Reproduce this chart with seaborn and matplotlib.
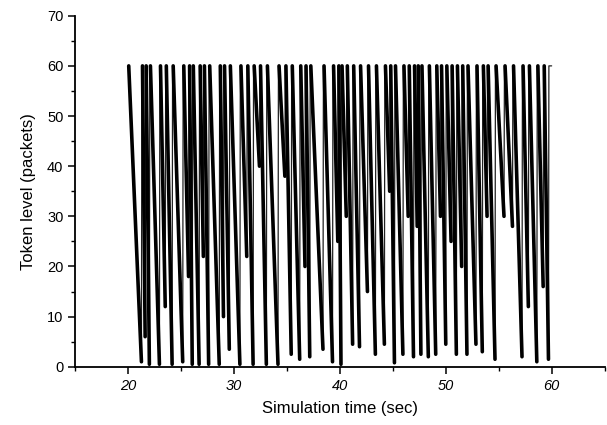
"""Token bucket level over simulation time."""

import matplotlib
matplotlib.use("Agg")
import matplotlib.pyplot as plt
import matplotlib.ticker as mticker
import pandas as pd
import seaborn as sns

# each dip: the level starts falling at dip_start, reaches dip_min at dip_bottom,
# then the bucket is refilled to BUCKET_SIZE
BUCKET_SIZE = 60
SIM_START = 20.0
SIM_END = 60.0

dip_start = [20.05, 21.35, 21.7, 22.1, 23.05, 23.6, 24.25, 25.25, 25.8, 26.15,
             26.8, 27.2, 27.7, 28.7, 29.1, 29.65, 30.65, 31.3, 31.9, 32.5,
             33.15, 34.25, 34.9, 35.5, 36.3, 36.8, 37.25, 38.5, 39.4, 39.9,
             40.2, 40.7, 41.3, 41.95, 42.7, 43.45, 44.3, 44.8, 45.25, 46.05,
             46.55, 47.05, 47.4, 47.75, 48.45, 49.15, 49.6, 50.1, 50.6, 51.1,
             51.6, 52.1, 52.95, 53.55, 54.0, 54.75, 55.6, 56.4, 57.3, 57.9,
             58.7, 59.3]
dip_bottom = [21.25, 21.6, 22.0, 22.95, 23.5, 24.15, 25.15, 25.7, 26.05, 26.7,
              27.1, 27.6, 28.6, 29.0, 29.55, 30.55, 31.2, 31.8, 32.4, 33.05,
              34.15, 34.8, 35.4, 36.2, 36.7, 37.15, 38.4, 39.3, 39.8, 40.1,
              40.6, 41.2, 41.85, 42.6, 43.35, 44.2, 44.7, 45.15, 45.95, 46.45,
              46.95, 47.3, 47.65, 48.35, 49.05, 49.5, 50.0, 50.5, 51.0, 51.5,
              52.0, 52.85, 53.45, 53.9, 54.65, 55.5, 56.3, 57.2, 57.8, 58.6,
              59.2, 59.7]
dip_min = [1, 6, 0.5, 0.5, 12, 0.5, 1, 18, 0.5, 0.5,
           22, 0.5, 0.5, 10, 3.5, 0.5, 22, 0.5, 40, 0.5,
           0.5, 38, 2.5, 1.5, 20, 2, 3.5, 1, 25, 0.5,
           30, 4.5, 4, 15, 2.5, 4.5, 35, 0.8, 2.5, 30,
           2, 28, 2.5, 2, 2.5, 30, 4.5, 25, 2.5, 20,
           2.5, 4.5, 3, 30, 1.5, 30, 28, 2, 12, 1,
           16, 1.5]

REFILL_TIME = 0.04


def build_trace() -> pd.DataFrame:
    """Split the trace in draining pieces and refill/idle pieces."""
    rows = []
    seg = 0
    prev_t, prev_lvl = SIM_START, BUCKET_SIZE
    for t0, t1, m in zip(dip_start, dip_bottom, dip_min):
        # refill jump + idle at full bucket
        rows += [(seg, "refill", prev_t, prev_lvl),
                 (seg, "refill", prev_t + REFILL_TIME, BUCKET_SIZE),
                 (seg, "refill", t0, BUCKET_SIZE)]
        seg += 1
        rows += [(seg, "drain", t0, BUCKET_SIZE), (seg, "drain", t1, m)]
        seg += 1
        prev_t, prev_lvl = t1, m
    rows += [(seg, "refill", prev_t, prev_lvl),
             (seg, "refill", prev_t + REFILL_TIME, BUCKET_SIZE),
             (seg, "refill", SIM_END, BUCKET_SIZE)]
    return pd.DataFrame(rows, columns=["seg", "kind", "time", "tokens"])


sns.set_theme(style="ticks")
plt.rcParams["font.family"] = ["Liberation Sans", "DejaVu Sans"]

df = build_trace()

fig = plt.figure(figsize=(6.07, 4.25), dpi=100)
ax = fig.add_axes([0.124, 0.137, 0.872, 0.826])
sns.lineplot(data=df, x="time", y="tokens", units="seg", estimator=None,
             sort=False, hue="kind", palette={"drain": "black", "refill": "#222222"},
             size="kind", sizes={"drain": 2.6, "refill": 0.9},
             legend=False, ax=ax)

ax.set_xlim(15, 65)
ax.set_ylim(0, 70)
ax.xaxis.set_major_locator(mticker.MultipleLocator(10))
ax.xaxis.set_minor_locator(mticker.MultipleLocator(5))
ax.yaxis.set_major_locator(mticker.MultipleLocator(10))
ax.yaxis.set_minor_locator(mticker.MultipleLocator(5))
ax.xaxis.set_major_formatter(mticker.FuncFormatter(
    lambda v, _: f"{v:.0f}" if 20 <= v <= 60 else ""))

ax.tick_params(which="major", length=5, width=1.1, color="black",
               labelsize=10.5, labelcolor="black", direction="out")
ax.tick_params(which="minor", length=3, width=1.0, color="black", direction="out")
for lab in ax.get_xticklabels():
    lab.set_fontstyle("italic")

sns.despine(ax=ax)
for side in ("left", "bottom"):
    ax.spines[side].set_linewidth(1.3)
    ax.spines[side].set_color("black")

ax.set_xlabel("Simulation time (sec)", fontsize=12, color="black", labelpad=6)
ax.set_ylabel("Token level (packets)", fontsize=12, color="black", labelpad=8)

fig.savefig("out.png", dpi=100)
plt.close(fig)
